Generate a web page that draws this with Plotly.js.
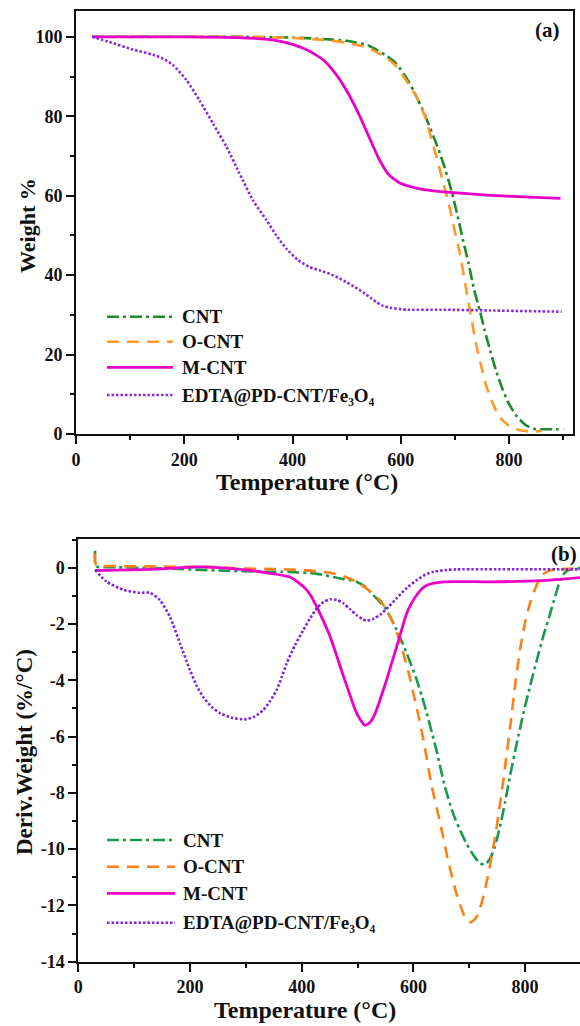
<!DOCTYPE html>
<html><head><meta charset="utf-8">
<script src="https://cdn.plot.ly/plotly-3.0.1.min.js"></script>
<style>html,body{margin:0;padding:0;overflow:hidden;background:#fff}#chart{width:600px;height:1026px}</style>
</head><body><div id="chart"></div>
<script>
// ---------- (a) TGA : Weight % vs Temperature ----------
const tgaCntT  = [30,100,200,300,400,450,500,540,570,590,611,625,638,650,660,670,680,694,705,715,725,735,746,755,765,777,789,800,814,830,845,860,880,900];
const tgaCntW  = [100,100,100,100,99.8,99.5,99,97.8,95.5,93.5,89.5,86,82.3,78.5,75,71.5,67.5,61,54.8,48.7,43,36.5,31,26,21,15.5,10.9,7.5,4.5,2.3,1.3,1.2,1.2,1.2];
const tgaOcntT = [30,100,200,300,400,450,500,540,570,590,610,627,645,656,666,678,690,700,709,720,731,740,749,758,768,778,789,805,826,845,860];
const tgaOcntW = [100,100,100,100,99.7,99.3,98.5,97.2,95,92.8,89,85.3,79.8,74.5,69.7,63.4,57.1,50.8,45.5,37,28.5,22,16.8,12,8.4,5.3,3.3,1.6,0.8,0.6,0.8];
const tgaMcntT = [30,100,200,300,350,380,400,420,440,460,480,500,520,540,558,577,598,629,660,703,765,826,895];
const tgaMcntW = [100,100,100,99.8,99.4,98.8,98.1,97.1,95.7,93.8,90.6,86.4,81.2,75.2,69.7,65.4,63.2,61.9,61.2,60.7,60.1,59.7,59.3];
const tgaEdtaT = [30,62,105,142,161,179,204,228,253,278,302,327,352,370,389,410,432,450,469,485,500,515,530,545,555,567,580,611,673,765,897];
const tgaEdtaW = [100,98.7,96.8,95.5,94.5,92.9,89.1,84,78.2,72.3,65.6,58.8,53.8,50,46.6,43.8,42,41.2,40.3,39.3,38.2,37,35.7,34.2,33.2,32.3,31.8,31.3,31.3,31.1,30.8];

// ---------- (b) DTG : Deriv. Weight (%/°C) vs Temperature ----------
const dtgCntT  = [30,32,60,150,250,320,380,427,469,498,515,528,540,552,561,570,579,588,597,606,615,624,633,642,656,671,683,695,707,719,728,737,746,755,764,773,785,797,809,821,833,845,854,863,870,878,898,905];
const dtgCntD  = [0.6,0.05,0.02,-0.02,-0.1,-0.14,-0.15,-0.22,-0.38,-0.5,-0.7,-0.97,-1.22,-1.5,-1.85,-2.21,-2.6,-3.04,-3.5,-3.99,-4.55,-5.17,-5.85,-6.55,-7.75,-8.73,-9.3,-9.8,-10.2,-10.5,-10.55,-10.35,-9.9,-9.2,-8.35,-7.4,-6.25,-5.17,-4.2,-3.28,-2.4,-1.62,-1.0,-0.44,-0.2,-0.08,-0.02,-0.02];
const dtgOcntT = [30,32,57,150,250,285,350,400,451,475,498,520,540,552,564,573,582,591,600,609,618,633,648,662,677,692,702,712,722,734,746,755,764,773,782,791,800,809,821,833,845,857,905];
const dtgOcntD = [0.5,0.08,0.06,0.04,0.02,-0.02,-0.05,-0.08,-0.18,-0.3,-0.5,-0.8,-1.15,-1.5,-1.98,-2.45,-3.04,-3.7,-4.46,-5.25,-6.12,-7.78,-9.08,-10.39,-11.57,-12.4,-12.6,-12.45,-11.93,-10.9,-9.6,-8.4,-7.1,-5.7,-4.2,-2.9,-1.95,-1.25,-0.6,-0.22,-0.1,-0.06,-0.02];
const dtgMcntT = [30,128,218,290,337,379,403,415,427,439,451,463,475,486,496,505,513,522,531,541,552,561,570,579,588,597,606,618,630,654,737,827,905];
const dtgMcntD = [-0.1,-0.06,0.03,-0.06,-0.18,-0.33,-0.67,-0.95,-1.39,-1.9,-2.45,-3.15,-3.87,-4.5,-5.06,-5.4,-5.6,-5.5,-5.2,-4.65,-3.99,-3.4,-2.81,-2.2,-1.62,-1.25,-0.97,-0.7,-0.58,-0.5,-0.5,-0.46,-0.34];
const dtgEdtaT = [30,51,81,110,128,146,164,182,200,212,224,239,254,275,298,315,331,343,355,364,373,388,403,415,427,439,451,463,475,487,498,508,516,528,540,555,570,588,606,621,636,660,678,905];
const dtgEdtaD = [-0.08,-0.5,-0.79,-0.89,-0.89,-1.15,-1.74,-2.69,-3.64,-4.2,-4.6,-4.95,-5.17,-5.33,-5.39,-5.3,-5.06,-4.75,-4.35,-3.9,-3.4,-2.75,-2.21,-1.8,-1.44,-1.22,-1.12,-1.15,-1.27,-1.48,-1.68,-1.82,-1.88,-1.82,-1.68,-1.4,-1.09,-0.72,-0.44,-0.25,-0.14,-0.08,-0.06,-0.06];

// ---------- labels ----------
const seriesNames = ['CNT','O-CNT','M-CNT','EDTA@PD-CNT/Fe\u2083O\u2084'];
const xTickVals = [0,200,400,600,800];
const yTickValsA = [0,20,40,60,80,100];
const yTickValsB = [-14,-12,-10,-8,-6,-4,-2,0];
const yTickTextB = ['-14','-12','-10','-8','-6','-4','-2','0'];
const xTitle = 'Temperature (°C)';
const yTitleA = 'Weight %';
const yTitleB = 'Deriv.Weight (%/°C)';

// ---------- styles ----------
const W = 600, H = 1026;
const colorsA = ['#1f8a2c','#ff9a2a','#e800c8','#8a2be2'];
const colorsB = ['#179a4c','#ff7f17','#ee00c8','#7f22e6'];
const dashes  = ['12px,4px,3px,4px','12px,8px','solid','2.5px,2px'];
const widths  = [2.6,2.6,2.8,2.6];
const FONT = 'Liberation Serif, Times New Roman, serif';

const tga = [[tgaCntT,tgaCntW],[tgaOcntT,tgaOcntW],[tgaMcntT,tgaMcntW],[tgaEdtaT,tgaEdtaW]];
const dtg = [[dtgCntT,dtgCntD],[dtgOcntT,dtgOcntD],[dtgMcntT,dtgMcntD],[dtgEdtaT,dtgEdtaD]];

const traces = [];
tga.forEach((s,i)=>traces.push({x:s[0],y:s[1],type:'scatter',mode:'lines',xaxis:'x',yaxis:'y',
  name:seriesNames[i],showlegend:false,line:{color:colorsA[i],width:widths[i],dash:dashes[i],shape:'spline',smoothing:0.6}}));
dtg.forEach((s,i)=>traces.push({x:s[0],y:s[1],type:'scatter',mode:'lines',xaxis:'x2',yaxis:'y2',
  name:seriesNames[i],showlegend:false,line:{color:colorsB[i],width:widths[i],dash:dashes[i],shape:'spline',smoothing:0.6}}));

const px = v => v / W;
const py = v => 1 - v / H;

const tickFont = {family:FONT,size:18,color:'#111',weight:'bold'};
const axisCommon = {showgrid:false,zeroline:false,showline:true,mirror:true,linecolor:'#111',linewidth:2,
  ticks:'outside',ticklen:8,tickwidth:2,tickcolor:'#111',tickfont:tickFont,automargin:false};
const minorX = {dtick:100,tick0:0,ticks:'outside',ticklen:4,tickwidth:2,tickcolor:'#111'};

const layout = {
  width:W,height:H,margin:{l:0,r:0,t:0,b:0},paper_bgcolor:'#fff',plot_bgcolor:'#fff',showlegend:false,
  font:{family:FONT,color:'#111'},
  xaxis:Object.assign({},axisCommon,{domain:[px(76),px(573)],range:[0,918],tickvals:xTickVals,minor:minorX,anchor:'y'}),
  yaxis:Object.assign({},axisCommon,{domain:[py(434),py(11)],range:[0,106.5],tickvals:yTickValsA,
    minor:{dtick:10,tick0:0,ticks:'outside',ticklen:4,tickwidth:2,tickcolor:'#111'},anchor:'x'}),
  xaxis2:Object.assign({},axisCommon,{domain:[px(78.3),px(591)],range:[0,918],tickvals:xTickVals,minor:minorX,anchor:'y2'}),
  yaxis2:Object.assign({},axisCommon,{domain:[py(961.7),py(539)],range:[-14,1.02],tickvals:yTickValsB,ticktext:yTickTextB,
    minor:{dtick:1,tick0:0,ticks:'outside',ticklen:4,tickwidth:2,tickcolor:'#111'},anchor:'x2'}),
  shapes:[], annotations:[]
};

const ann = (x,y,text,size,extra)=>Object.assign({xref:'paper',yref:'paper',x:px(x),y:py(y),text:text,showarrow:false,
  xanchor:'center',yanchor:'middle',font:{family:FONT,size:size,color:'#111',weight:'bold'}},extra||{});

// axis titles
layout.annotations.push(ann(307,482,xTitle,24));
layout.annotations.push(ann(305,1010,xTitle,24));
layout.annotations.push(ann(27,226,yTitleA,22,{textangle:-90}));
layout.annotations.push(ann(24,752,yTitleB,23,{textangle:-90}));

// panel labels
layout.annotations.push(ann(547,30,'(a)',21));
layout.annotations.push(ann(564,554,'(b)',21));

// legends (sample lines + labels)
const legA = {x0:107,x1:173,tx:180,rows:[316.7,341.7,367.3,395],colors:colorsA};
const legB = {x0:107,x1:175,tx:181,rows:[840,866.7,893.3,922.7],colors:colorsB};
[legA,legB].forEach(L=>{
  L.rows.forEach((r,i)=>{
    layout.shapes.push({type:'line',xref:'paper',yref:'paper',x0:px(L.x0),x1:px(L.x1),y0:py(r),y1:py(r),
      line:{color:L.colors[i],width:widths[i],dash:dashes[i]}});
    layout.annotations.push(ann(L.tx,r,seriesNames[i],19,{xanchor:'left'}));
  });
});

Plotly.newPlot('chart',traces,layout,{staticPlot:true,displayModeBar:false});
</script>
</body></html>
